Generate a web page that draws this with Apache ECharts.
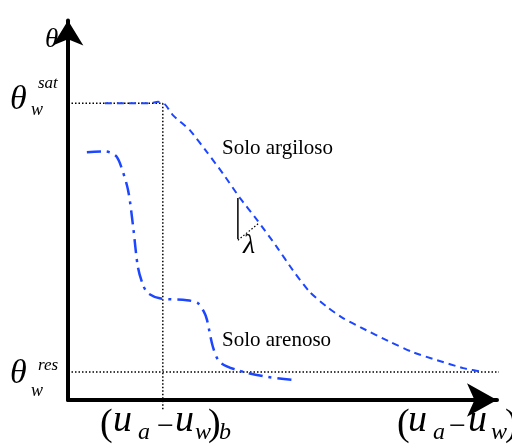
<!DOCTYPE html>
<html>
<head>
<meta charset="utf-8">
<script src="https://cdn.jsdelivr.net/npm/echarts@6/dist/echarts.min.js"></script>
<style>
  html, body { margin: 0; padding: 0; background: #fff; }
  #main { width: 512px; height: 446px; }
</style>
</head>
<body>
<div id="main"></div>
<script>
// water content (y) vs suction (x), arbitrary units 0..100
var satLevel = 78.2;      // theta_w sat
var resLevel = 7.4;       // theta_w res
var airEntry = 22.1;      // (ua - uw)_b

var clayCurve = [
    [8.6, 78.2], [19.1, 78.2], [21.0, 78.6], [22.6, 77.9], [24.5, 75.0],
    [28.4, 71.1], [32.4, 65.3], [36.1, 59.7], [40.1, 53.2], [44.1, 47.4],
    [48.7, 40.3], [52.4, 34.2], [56.4, 28.4], [60.4, 24.5], [64.1, 21.6],
    [68.1, 19.2], [75.1, 15.3], [80.4, 12.6], [86.0, 10.5], [92.1, 8.4],
    [96.7, 7.4]
];

var sandCurve = [
    [4.4, 65.3], [8.6, 65.5], [11.0, 64.5], [12.1, 62.4], [14.0, 55.3],
    [15.2, 45.5], [16.3, 35.0], [17.5, 30.3], [18.6, 28.2], [21.4, 26.8],
    [27.7, 26.3], [30.3, 25.5], [31.7, 23.2], [32.4, 21.1], [33.8, 13.9],
    [35.4, 10.0], [39.4, 7.9], [46.4, 6.1], [52.4, 5.3]
];

// slope marker (lambda)
var lambdaLeg = [[39.6, 53.2], [39.6, 42.4]];
var lambdaHyp = [[39.6, 42.1], [44.5, 46.6]];

var chartDom = document.getElementById('main');
var myChart = echarts.init(chartDom);
var option;

var blue = '#1c46ff';
var serif = 'Liberation Serif';

// x = left edge, base = approx. text baseline (pixels)
function txt(x, base, s, size, italic) {
    return {
        type: 'text', x: x, y: base - 0.28 * size, z: 100,
        style: {
            text: s, fontSize: size, fontFamily: serif,
            fontStyle: italic ? 'italic' : 'normal', fill: '#000',
            verticalAlign: 'middle'
        }
    };
}

option = {
    animation: false,
    grid: { left: 68, top: 20.5, right: 15, bottom: 46 },
    xAxis: {
        type: 'value', min: 0, max: 100,
        axisLine: {
            onZero: false,
            lineStyle: { color: '#000', width: 4 },
            symbol: ['none', 'arrow'], symbolSize: [25, 30]
        },
        axisTick: { show: false }, axisLabel: { show: false }, splitLine: { show: false }
    },
    yAxis: {
        type: 'value', min: 0, max: 100,
        axisLine: {
            show: true,
            onZero: false,
            lineStyle: { color: '#000', width: 4 },
            symbol: ['none', 'arrow'], symbolSize: [23, 25]
        },
        axisTick: { show: false }, axisLabel: { show: false }, splitLine: { show: false }
    },
    series: [
        {
            type: 'line', clip: false, symbol: 'none', silent: true,
            data: [[0, satLevel], [airEntry, satLevel]],
            lineStyle: { color: '#000', width: 1.5, type: [1.5, 2] }
        },
        {
            type: 'line', clip: false, symbol: 'none', silent: true,
            data: [[airEntry, satLevel], [airEntry, -2.6]],
            lineStyle: { color: '#000', width: 1.5, type: [1.5, 2] }
        },
        {
            type: 'line', clip: false, symbol: 'none', silent: true,
            data: [[0, resLevel], [103, resLevel]],
            lineStyle: { color: '#000', width: 1.5, type: [1.5, 2] }
        },
        {
            type: 'line', symbol: 'none', smooth: 0.2, silent: true,
            data: clayCurve,
            lineStyle: { color: blue, width: 2, type: [7, 5] }
        },
        {
            type: 'line', symbol: 'none', smooth: 0.3, silent: true,
            data: sandCurve,
            lineStyle: { color: blue, width: 2.5, type: [14, 6, 3, 6] }
        },
        {
            type: 'line', symbol: 'none', silent: true,
            data: lambdaLeg,
            lineStyle: { color: '#000', width: 1.5 }
        },
        {
            type: 'line', symbol: 'none', silent: true,
            data: lambdaHyp,
            lineStyle: { color: '#000', width: 1.2, type: [1.5, 2] }
        }
    ],
    graphic: [
        txt(45, 47, 'θ', 27, true),
        txt(10, 110, 'θ', 34, true),
        txt(38, 88, 'sat', 17, true),
        txt(31, 115, 'w', 18, true),
        txt(10, 384, 'θ', 34, true),
        txt(38, 370, 'res', 17, true),
        txt(31, 396, 'w', 18, true),
        txt(222, 154, 'Solo argiloso', 21, false),
        txt(222, 346, 'Solo arenoso', 21, false),
        txt(243, 253, 'λ', 28, true),
        // (ua - uw)b
        txt(100, 436, '(', 38, false),
        txt(113, 432, 'u', 38, true),
        txt(138, 439, 'a', 24, true),
        txt(157, 436, '−', 30, false),
        txt(175, 432, 'u', 38, true),
        txt(195, 439, 'w', 24, true),
        txt(208, 436, ')', 38, false),
        txt(219, 439, 'b', 24, true),
        // (ua - uw)
        txt(397, 436, '(', 38, false),
        txt(408, 432, 'u', 38, true),
        txt(433, 439, 'a', 24, true),
        txt(449, 436, '−', 30, false),
        txt(468, 432, 'u', 38, true),
        txt(491, 439, 'w', 24, true),
        txt(505, 436, ')', 38, false)
    ]
};

option && myChart.setOption(option);
</script>
</body>
</html>
